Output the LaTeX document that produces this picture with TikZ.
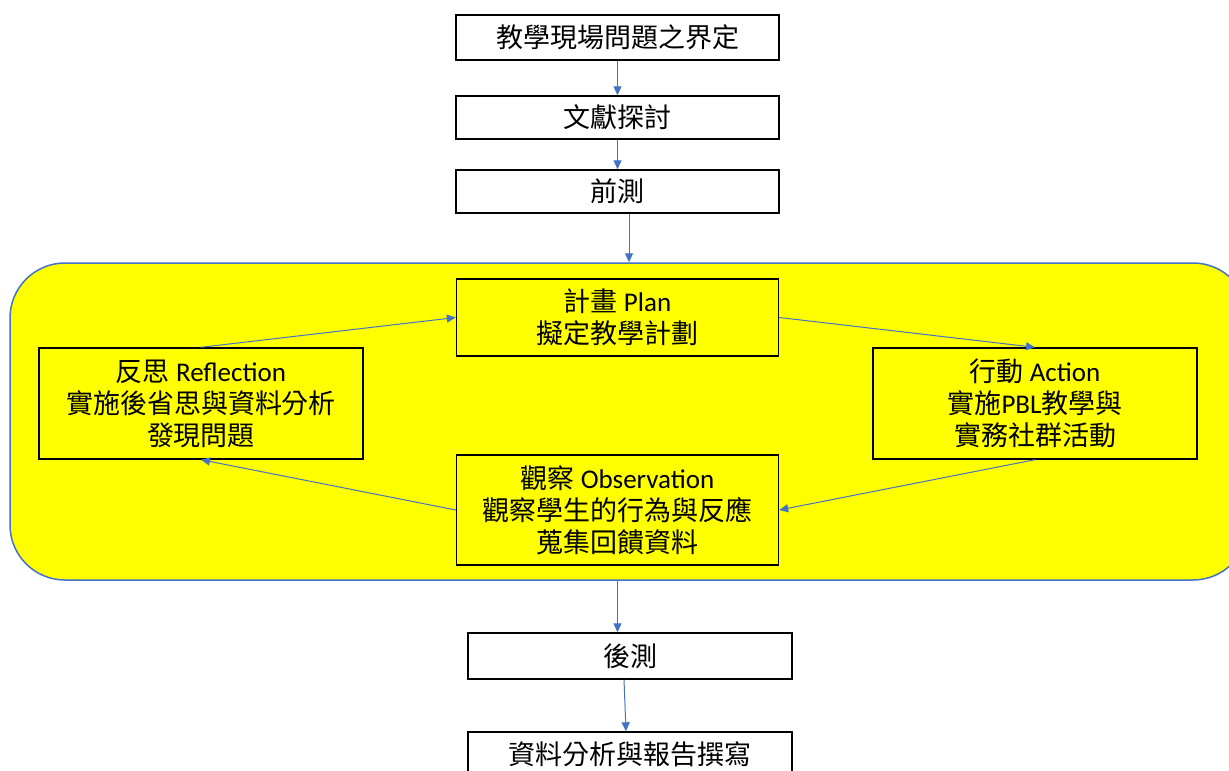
\documentclass[tikz,border=0pt]{standalone}
\usepackage{fontspec}
\setmainfont{Carlito}
\newfontfamily\cjk{Noto Sans CJK TC}
\usetikzlibrary{arrows.meta}
\definecolor{lineblue}{HTML}{4472C4}
\definecolor{cycyellow}{HTML}{FFFF00}
\tikzset{
  box/.style={draw=black, line width=1.4pt, inner sep=0pt, align=center,
    font=\fontsize{27}{32}\selectfont, text=black},
  flow/.style={draw=lineblue, line width=1pt, -{Triangle[length=9pt,width=8pt]}, fill=none},
}
\begin{document}
\begin{tikzpicture}[x=1pt,y=-1pt]
\path[use as bounding box, clip] (0,0) rectangle (1229,771);
\fill[white] (0,0) rectangle (1229,771);
% cycle background
\node[draw=lineblue, line width=1.5pt, fill=cycyellow, rounded corners=55pt,
  minimum width=1238pt, minimum height=317pt, inner sep=0pt] (cycle) at (629,421.5) {};
% top flow
\node[box, minimum width=323pt, minimum height=45pt] (n1) at (617.5,37.5) {{\cjk 教學現場問題之界定}};
\node[box, minimum width=323pt, minimum height=43pt] (n2) at (617.5,117.5) {{\cjk 文獻探討}};
\node[box, minimum width=323pt, minimum height=43pt] (n3) at (617.5,191.5) {{\cjk 前測}};
% cycle nodes
\node[box, minimum width=322pt, minimum height=77pt] (plan) at (617.5,317.5) {{\cjk 計畫} Plan\\{\cjk 擬定教學計劃}};
\node[box, minimum width=324pt, minimum height=111pt] (refl) at (201,403.5) {{\cjk 反思} Reflection\\{\cjk 實施後省思與資料分析}\\{\cjk 發現問題}};
\node[box, minimum width=324pt, minimum height=111pt] (act) at (1035,403.5) {{\cjk 行動} Action\\{\cjk 實施}PBL{\cjk 教學與}\\{\cjk 實務社群活動}};
\node[box, minimum width=322pt, minimum height=110pt] (obs) at (617.5,510) {{\cjk 觀察} Observation\\{\cjk 觀察學生的行為與反應}\\{\cjk 蒐集回饋資料}};
% bottom flow
\node[box, minimum width=324pt, minimum height=46pt] (post) at (630,656) {{\cjk 後測}};
\node[box, minimum width=324pt, minimum height=45pt] (last) at (630,754.5) {{\cjk 資料分析與報告撰寫}};
% connectors
\draw[flow] (n1.south) -- (n2.north);
\draw[flow] (n2.south) -- (n3.north);
\draw[flow] (n3.south -| cycle.north) -- (cycle.north);
\draw[flow] (refl.north) -- (plan.west);
\draw[flow] (plan.east) -- (act.north);
\draw[flow] (act.south) -- (obs.east);
\draw[flow] (obs.west) -- (refl.south);
\draw[flow] (obs.south |- cycle.south) -- (obs.south |- post.north);
\draw[flow] ([xshift=-6pt]post.south) -- ([xshift=-4pt]last.north);
\end{tikzpicture}
\end{document}
